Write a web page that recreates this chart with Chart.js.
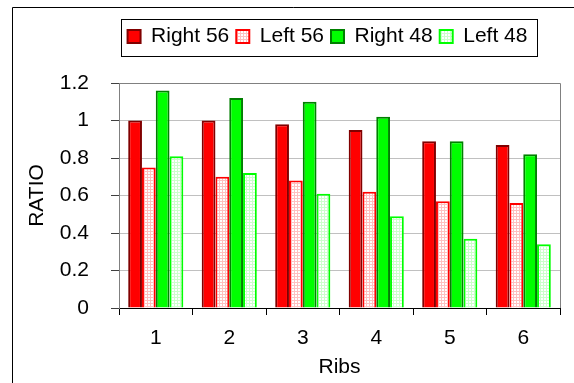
<!DOCTYPE html>
<html>
<head>
<meta charset="utf-8">
<title>Ribs ratio</title>
<script src="https://cdn.jsdelivr.net/npm/chart.js"></script>
<style>
  * { margin: 0; padding: 0; }
  body { background: #fff; }
</style>
</head>
<body>
<canvas id="ribs" width="574" height="383"></canvas>
<script>
  // values
  const ribs = ['1', '2', '3', '4', '5', '6'];
  const right56 = [1.00, 1.00, 0.98, 0.95, 0.89, 0.87];
  const left56  = [0.75, 0.70, 0.68, 0.62, 0.57, 0.56];
  const right48 = [1.16, 1.12, 1.10, 1.02, 0.89, 0.82];
  const left48  = [0.81, 0.72, 0.61, 0.49, 0.37, 0.34];
  const yLabels = ['0', '0.2', '0.4', '0.6', '0.8', '1', '1.2'];

  const FONT = "'Liberation Sans', Arial, sans-serif";

  // dotted fill like the Excel pattern bars
  function dots(lineCol) {
    const c = document.createElement('canvas');
    c.width = 3; c.height = 3;
    const g = c.getContext('2d');
    g.fillStyle = lineCol;
    g.fillRect(0, 0, 3, 3);
    g.fillStyle = '#ffffff';
    g.fillRect(1, 1, 2, 2);
    return g.createPattern(c, 'repeat');
  }

  const framePlugin = {
    id: 'frame',
    afterLayout(chart) {
      // put the legend where the original has it (not centred on the plot)
      const lg = chart.legend;
      lg.left -= 12;
      lg.right -= 12;
      const h = lg.height;
      lg.top = 19;
      lg.bottom = 19 + h;
    },
    beforeDraw(chart) {
      const ctx = chart.ctx;
      ctx.save();
      ctx.strokeStyle = '#000';
      ctx.lineWidth = 1;
      ctx.beginPath();
      ctx.moveTo(12.5, 383);
      ctx.lineTo(12.5, 7.5);
      ctx.lineTo(574, 7.5);
      ctx.stroke();
      ctx.restore();
    },
    afterDraw(chart) {
      const ctx = chart.ctx;
      const a = chart.chartArea;
      const lg = chart.legend;
      ctx.save();
      // top and right edges of the plot
      ctx.strokeStyle = '#808080';
      ctx.lineWidth = 1;
      ctx.beginPath();
      ctx.moveTo(a.left, a.top + 0.5);
      ctx.lineTo(a.right + 0.5, a.top + 0.5);
      ctx.lineTo(a.right + 0.5, a.bottom);
      ctx.stroke();
      // legend box
      const pad = lg.options.labels.padding;
      const lw = lg.lineWidths[0];
      const start = (lg.left + pad + lg.right - lw) / 2;
      ctx.strokeStyle = '#000';
      ctx.strokeRect(Math.round(start - pad) + 0.5, Math.round(lg.top) + 0.5,
                     Math.round(lw) + 9, Math.round(lg.height) - 1);
      ctx.restore();
    }
  };

  const ctx = document.getElementById('ribs').getContext('2d');
  const chart = new Chart(ctx, {
    type: 'bar',
    data: {
      labels: ribs,
      datasets: [
        { label: 'Right 56', data: right56, backgroundColor: '#ff0000', borderColor: '#800000' },
        { label: 'Left 56', data: left56, backgroundColor: dots('#ffc0c0'), borderColor: '#ff0000' },
        { label: 'Right 48', data: right48, backgroundColor: '#00ff00', borderColor: '#008000' },
        { label: 'Left 48', data: left48, backgroundColor: dots('#ccffcc'), borderColor: '#00ff00' }
      ]
    },
    options: {
      responsive: false,
      animation: false,
      devicePixelRatio: 1,
      layout: { padding: { top: 19, right: 14, bottom: 0, left: 0 } },
      datasets: {
        bar: { borderWidth: 2, categoryPercentage: 0.75, barPercentage: 1 }
      },
      plugins: {
        legend: {
          position: 'top',
          fullSize: false,
          labels: {
            color: '#000',
            font: { family: FONT, size: 21 },
            boxWidth: 13,
            boxHeight: 13,
            padding: 7
          }
        },
        tooltip: { enabled: false }
      },
      scales: {
        x: {
          grid: { drawOnChartArea: false, tickLength: 7, tickColor: '#000', offset: true },
          border: { color: '#000' },
          ticks: { color: '#000', font: { family: FONT, size: 21 }, padding: 11 },
          title: { display: true, text: 'Ribs', color: '#000',
                   font: { family: FONT, size: 21 }, padding: { top: 0, bottom: 3 } },
          afterFit(s) { s.height = 75; }
        },
        y: {
          min: 0,
          max: 1.2,
          ticks: {
            stepSize: 0.2,
            color: '#000',
            font: { family: FONT, size: 21 },
            padding: 22,
            callback: (v, i) => yLabels[i]
          },
          grid: { color: '#c0c0c0', tickLength: 8, tickColor: '#404040' },
          border: { color: '#808080' },
          title: { display: true, text: 'RATIO', color: '#000',
                   font: { family: FONT, size: 21 }, padding: { top: 25, bottom: 0 } },
          afterFit(s) { s.width = 119; s.paddingTop = 83; }
        }
      }
    },
    plugins: [framePlugin]
  });
</script>
</body>
</html>
